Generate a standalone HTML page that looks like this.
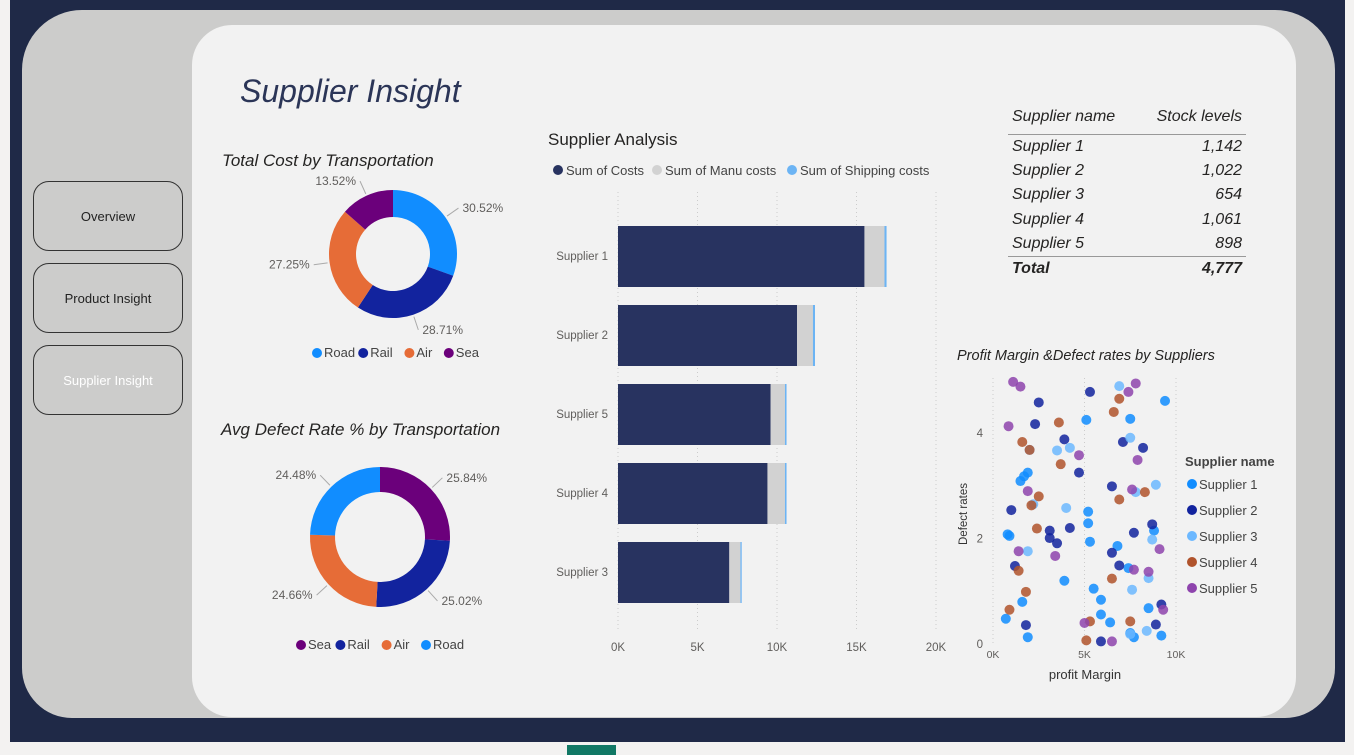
<!DOCTYPE html>
<html><head><meta charset="utf-8">
<style>
body{margin:0;width:1354px;height:755px;overflow:hidden;background:#f3f2f1;font-family:"Liberation Sans",sans-serif;position:relative}
.abs{position:absolute}
.nav{position:absolute;left:33px;width:148px;height:68px;border:1px solid #333;border-radius:16px;background:#cccccb;font-size:13px;color:#222;display:flex;align-items:center;justify-content:center}
.t{position:absolute;font-style:italic;color:#252423}
</style></head><body>
<div class="abs" style="left:10px;top:0;width:1335px;height:742px;background:#1f2947"></div>
<div class="abs" style="left:22px;top:10px;width:1313px;height:708px;background:#cccccb;border-radius:60px 60px 50px 50px"></div>
<div class="abs" style="left:192px;top:25px;width:1104px;height:692px;background:#f2f2f2;border-radius:40px"></div>
<div class="abs" style="left:567px;top:745px;width:49px;height:10px;background:#117865"></div>
<div class="nav" style="top:181px">Overview</div>
<div class="nav" style="top:263px">Product Insight</div>
<div class="nav" style="top:345px;color:#fff">Supplier Insight</div>
<div class="t" style="left:240px;top:73px;font-size:32px;color:#2b3557">Supplier Insight</div>
<div class="t" style="left:222px;top:151px;font-size:17px">Total Cost by Transportation</div>
<div class="t" style="left:221px;top:420px;font-size:17px">Avg Defect Rate % by Transportation</div>
<div class="abs" style="left:548px;top:130px;font-size:17px;color:#252423">Supplier Analysis</div>
<div class="t" style="left:957px;top:348px;font-size:14.5px">Profit Margin &amp;Defect rates by Suppliers</div>

<div class="abs" style="left:1008px;top:100px;width:238px;font-style:italic;color:#252423;font-size:16px">
<div style="display:flex;justify-content:space-between;height:34px;border-bottom:1px solid #999;align-items:center;padding:0 4px"><span>Supplier name</span><span>Stock levels</span></div>
<div id="rows"></div>
<div style="display:flex;justify-content:space-between;height:24px;border-top:1px solid #999;align-items:center;padding:0 4px;font-weight:bold"><span>Total</span><span>4,777</span></div>
</div>

<svg class="abs" style="left:0;top:0" width="1354" height="755" id="svg"></svg>
<script>
// stock table
const stockNames=["Supplier 1","Supplier 2","Supplier 3","Supplier 4","Supplier 5"];
const stockVals=["1,142","1,022","654","1,061","898"];
const rows=document.getElementById('rows');
stockNames.forEach((n,i)=>{const d=document.createElement('div');d.style.cssText='display:flex;justify-content:space-between;height:24.2px;align-items:center;padding:0 4px';d.innerHTML='<span>'+n+'</span><span>'+stockVals[i]+'</span>';


rows.appendChild(d);});

const NS="http://www.w3.org/2000/svg",svg=document.getElementById('svg');
function el(t,a,p){const e=document.createElementNS(NS,t);for(const k in a)e.setAttribute(k,a[k]);(p||svg).appendChild(e);return e;}
function txt(x,y,s,a){const e=el('text',Object.assign({x:x,y:y,'font-size':12,fill:'#605e5c','font-family':'Liberation Sans, sans-serif'},a||{}));e.textContent=s;return e;}

// donuts
const d1Labels=["Road","Rail","Air","Sea"];
const d1Values=[30.52,28.71,27.25,13.52];
const d1Colors=["#118DFF","#12239E","#E66C37","#6B007B"];
const d2Labels=["Sea","Rail","Air","Road"];
const d2Values=[25.84,25.02,24.66,24.48];
const d2Colors=["#6B007B","#12239E","#E66C37","#118DFF"];
function donut(cx,cy,R,r,vals,cols,labels,name,lblR){
  const tot=vals.reduce((a,b)=>a+b,0);let a0=-Math.PI/2;
  vals.forEach((v,i)=>{const a1=a0+v/tot*2*Math.PI;const la=(a1-a0)>Math.PI?1:0;
    const p=`M${cx+R*Math.cos(a0)},${cy+R*Math.sin(a0)}A${R},${R} 0 ${la} 1 ${cx+R*Math.cos(a1)},${cy+R*Math.sin(a1)}L${cx+r*Math.cos(a1)},${cy+r*Math.sin(a1)}A${r},${r} 0 ${la} 0 ${cx+r*Math.cos(a0)},${cy+r*Math.sin(a0)}Z`;
    const s=el('path',{d:p,fill:cols[i]});
    
    
    const am=(a0+a1)/2,lx=cx+lblR*Math.cos(am),ly=cy+lblR*Math.sin(am);
    el('line',{x1:cx+(R+2)*Math.cos(am),y1:cy+(R+2)*Math.sin(am),x2:lx,y2:ly,stroke:'#aaa'});
    const right=Math.cos(am)>=0;
    const t=txt(lx+(right?4:-4),ly+4,v.toFixed(2)+'%',{'text-anchor':right?'start':'end'});
    
    
    a0=a1;});
}
donut(393,254,64,37,d1Values,d1Colors,d1Labels,'cost-donut',80);
donut(380,537,70,45,d2Values,d2Colors,d2Labels,'defect-donut',86);
function legend(x,y,labels,cols,name){labels.forEach((l,i)=>{const c=el('circle',{cx:x+5,cy:y-4,r:5,fill:cols[i]});
 
 const t=txt(x+12,y,l,{'font-size':13,fill:'#444'});
 x+=12+l.length*6.8+7;});}
legend(312,357,d1Labels,d1Colors,'cost-donut');
legend(296,649,d2Labels,d2Colors,'defect-donut');

// bar chart
const barCats=["Supplier 1","Supplier 2","Supplier 5","Supplier 4","Supplier 3"];
const sumCosts=[15.5,11.26,9.6,9.4,7.0];
const manuCosts=[1.26,1.0,0.9,1.1,0.7];
const shipCosts=[0.13,0.13,0.1,0.1,0.08];
const barTicks=[0,5,10,15,20];
const bx=k=>618+k*15.9, by=i=>256+i*79;
barTicks.forEach(k=>{el('line',{x1:bx(k),y1:192,x2:bx(k),y2:630,stroke:'#ccc','stroke-dasharray':'1 3'});txt(bx(k),651,k+'K',{'text-anchor':'middle','font-size':11.5});});
barCats.forEach((c,i)=>{const y=by(i)-30;let x0=0;
 [[sumCosts,'#283360','sum-costs'],[manuCosts,'#d2d2d2','manu-costs'],[shipCosts,'#6cb4f4','shipping-costs']].forEach(([arr,col,n])=>{
  const r=el('rect',{x:bx(x0),y:y,width:bx(x0+arr[i])-bx(x0),height:61,fill:col});
  
  x0+=arr[i];});
 txt(608,by(i)+4,c,{'text-anchor':'end','font-size':11.5});});
const bl=[["Sum of Costs","#283360",553],["Sum of Manu costs","#d2d2d2",652],["Sum of Shipping costs","#6cb4f4",787]];
bl.forEach(([l,c,x])=>{const m=el('circle',{cx:x+5,cy:170,r:5,fill:c});
 const t=txt(x+13,175,l,{'font-size':13,fill:'#444'});});

// scatter
const s1x=[9.4,5.1,7.5,1.9,1.7,1.5,5.2,5.2,5.3,0.8,0.9,6.8,8.8,7.4,3.9,5.5,5.9,5.9,6.4,8.5,1.6,0.7,1.9,7.7,9.2,7.5];
const s1y=[4.59,4.23,4.25,3.23,3.16,3.07,2.49,2.27,1.92,2.06,2.03,1.84,2.13,1.42,1.18,1.03,0.82,0.54,0.39,0.66,0.78,0.46,0.11,0.11,0.14,0.19];
const s2x=[2.5,2.3,5.3,3.9,4.7,7.1,8.2,6.5,1.0,3.1,3.1,3.5,4.2,7.7,8.7,6.5,6.9,1.2,1.8,9.2,8.9,5.9];
const s2y=[4.56,4.15,4.76,3.86,3.23,3.81,3.70,2.97,2.52,2.13,1.99,1.89,2.18,2.09,2.25,1.71,1.47,1.46,0.34,0.73,0.35,0.03];
const s3x=[6.9,7.5,3.5,4.2,2.0,8.9,4.0,2.2,1.9,8.7,8.5,7.6,8.4,7.5,7.8];
const s3y=[4.87,3.89,3.65,3.70,3.66,3.0,2.56,2.63,1.74,1.96,1.23,1.01,0.23,0.17,2.86];
const s4x=[3.6,1.6,2.0,3.7,2.5,2.1,2.4,1.4,1.8,0.9,6.6,6.9,6.9,8.3,6.5,7.5,5.3,5.1];
const s4y=[4.18,3.81,3.66,3.39,2.78,2.61,2.17,1.37,0.97,0.63,4.38,4.63,2.72,2.86,1.22,0.41,0.41,0.05];
const s5x=[1.1,1.5,0.85,4.7,7.9,1.9,7.6,1.4,3.4,7.7,8.5,9.1,7.8,7.4,9.3,5.0,6.5];
const s5y=[4.95,4.86,4.11,3.56,3.47,2.88,2.91,1.74,1.65,1.39,1.35,1.78,4.92,4.76,0.63,0.38,0.03];
const scXTicks=[0,5,10],scYTicks=[0,2,4];
const sx=k=>993+k*18.3, sy=v=>643-v*52.75;
scXTicks.forEach(k=>{el('line',{x1:sx(k),y1:378,x2:sx(k),y2:643,stroke:'#ccc','stroke-dasharray':'1 3'});txt(sx(k),658,k+'K',{'text-anchor':'middle','font-size':10.5});});
scYTicks.forEach(v=>txt(983,sy(v)+5,v,{'text-anchor':'end','font-size':11.5}));
txt(1085,679,'profit Margin',{'text-anchor':'middle','font-size':13,fill:'#333'});
txt(0,0,'Defect rates',{'font-size':11.5,fill:'#333',transform:'translate(967,545) rotate(-90)'});
const sCols=["#118DFF","#12239E","#6CB8FF","#B0532C","#8E44AD"];
const sNames=["Supplier 1","Supplier 2","Supplier 3","Supplier 4","Supplier 5"];
[[s1x,s1y],[s2x,s2y],[s3x,s3y],[s4x,s4y],[s5x,s5y]].forEach(([xs,ys],si)=>{xs.forEach((x,i)=>{
 const c=el('circle',{cx:sx(x),cy:sy(ys[i]),r:5,fill:sCols[si],opacity:0.85});
 
 });});
txt(1185,466,'Supplier name',{'font-size':13,'font-weight':'bold',fill:'#444'});
sNames.forEach((n,i)=>{const y=489+i*26;const m=el('circle',{cx:1192,cy:y-5,r:5,fill:sCols[i]});
 
 const t=txt(1199,y,n,{'font-size':13,fill:'#444'});});
</script>
</body></html>
